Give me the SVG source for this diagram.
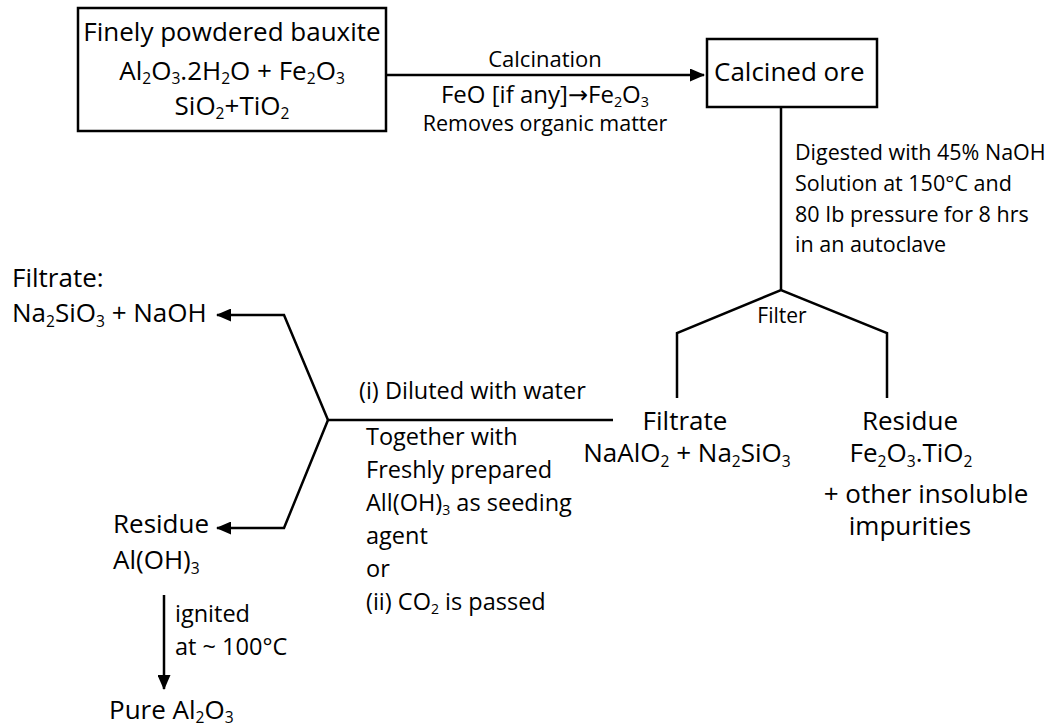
<svg xmlns="http://www.w3.org/2000/svg" width="1053" height="728" viewBox="0 0 1053 728">
<style>
text{font-family:"Open Sans","Noto Sans","DejaVu Sans",sans-serif;fill:#000}
.big{font-size:26px}
.mid{font-size:23.5px}
.sm{font-size:21.5px}
.c{text-anchor:middle}
.box{fill:#fff;stroke:#000;stroke-width:2.5}
.ln{fill:none;stroke:#000;stroke-width:2.5;stroke-linejoin:miter}
.s{font-size:60%}
</style>
<defs>
<marker id="ah" viewBox="0 0 15 13" refX="14" refY="6.5" markerWidth="15" markerHeight="13" markerUnits="userSpaceOnUse" orient="auto">
<path d="M0,0 L15,6.5 L0,13 Z" fill="#000"/>
</marker>
</defs>
<g id="connectors">
<line class="ln" x1="386" y1="75" x2="704" y2="75" marker-end="url(#ah)"/>
<polyline class="ln" points="781,107 781,290"/>
<polyline class="ln" points="677,398 677,333 781,290 887,333 887,398"/>
<line class="ln" x1="327" y1="420" x2="613" y2="420"/>
<polyline class="ln" points="328,420 284,315 217,315" marker-end="url(#ah)"/>
<polyline class="ln" points="328,420 284,528 217,528" marker-end="url(#ah)"/>
<line class="ln" x1="164" y1="595" x2="164" y2="689" marker-end="url(#ah)"/>
<text class="c" style="font-size:22px" x="545" y="67">Calcination</text>
<text class="c" style="font-size:24px" x="545" y="103">FeO [if any]→Fe<tspan class="s" dy="4">2</tspan><tspan dy="-4">O</tspan><tspan class="s" dy="4">3</tspan></text>
<text class="c" style="font-size:21.5px" x="545" y="131">Removes organic matter</text>
<g class="sm">
<text x="795" y="160">Digested with 45% NaOH</text>
<text x="795" y="191">Solution at 150°C and</text>
<text x="795" y="222">80 Ib pressure for 8 hrs</text>
<text x="795" y="252">in an autoclave</text>
</g>
<text class="c" style="font-size:21px" x="782" y="323">Filter</text>
<text class="mid" x="359" y="399">(i) Diluted with water</text>
<g class="mid">
<text x="366" y="445">Together with</text>
<text x="366" y="478">Freshly prepared</text>
<text x="366" y="511">All(OH)<tspan class="s" dy="4">3</tspan><tspan dy="-4"> as seeding</tspan></text>
<text x="366" y="544">agent</text>
<text x="366" y="577">or</text>
<text x="366" y="610">(ii) CO<tspan class="s" dy="4">2</tspan><tspan dy="-4"> is passed</tspan></text>
</g>
<text class="mid" x="175" y="622">ignited</text>
<text class="mid" x="175" y="655">at ~ 100°C</text>
</g>
<g id="bauxite">
<rect class="box" x="78" y="8" width="308" height="123"/>
<text class="big c" x="232" y="41">Finely powdered bauxite</text>
<text class="big c" x="232" y="80">Al<tspan class="s" dy="4">2</tspan><tspan dy="-4">O</tspan><tspan class="s" dy="4">3</tspan><tspan dy="-4">.2H</tspan><tspan class="s" dy="4">2</tspan><tspan dy="-4">O + Fe</tspan><tspan class="s" dy="4">2</tspan><tspan dy="-4">O</tspan><tspan class="s" dy="4">3</tspan></text>
<text class="big c" x="232" y="115">SiO<tspan class="s" dy="4">2</tspan><tspan dy="-4">+TiO</tspan><tspan class="s" dy="4">2</tspan></text>
</g>
<g id="calcined">
<rect class="box" x="707" y="39" width="170" height="68"/>
<text class="big" x="714" y="81">Calcined ore</text>
</g>
<g id="filtrate1">
<text class="big c" x="685" y="430">Filtrate</text>
<text class="big c" x="687" y="462">NaAlO<tspan class="s" dy="5">2</tspan><tspan dy="-5"> + Na</tspan><tspan class="s" dy="5">2</tspan><tspan dy="-5">SiO</tspan><tspan class="s" dy="5">3</tspan></text>
</g>
<g id="residue1">
<text class="big c" x="910" y="430">Residue</text>
<text class="big c" x="911" y="462">Fe<tspan class="s" dy="5">2</tspan><tspan dy="-5">O</tspan><tspan class="s" dy="5">3</tspan><tspan dy="-5">.TiO</tspan><tspan class="s" dy="5">2</tspan></text>
<text class="big c" x="926" y="503">+ other insoluble</text>
<text class="big c" x="910" y="535">impurities</text>
</g>
<g id="filtrate2">
<text class="big" x="12" y="287">Filtrate:</text>
<text class="big" x="12" y="322">Na<tspan class="s" dy="5">2</tspan><tspan dy="-5">SiO</tspan><tspan class="s" dy="5">3</tspan><tspan dy="-5"> + NaOH</tspan></text>
</g>
<g id="residue2">
<text class="big" x="113" y="533">Residue</text>
<text class="big" x="113" y="569">Al(OH)<tspan class="s" dy="5">3</tspan></text>
</g>
<g id="pure">
<text class="big" x="109" y="719">Pure Al<tspan class="s" dy="4">2</tspan><tspan dy="-4">O</tspan><tspan class="s" dy="4">3</tspan></text>
</g>
</svg>
